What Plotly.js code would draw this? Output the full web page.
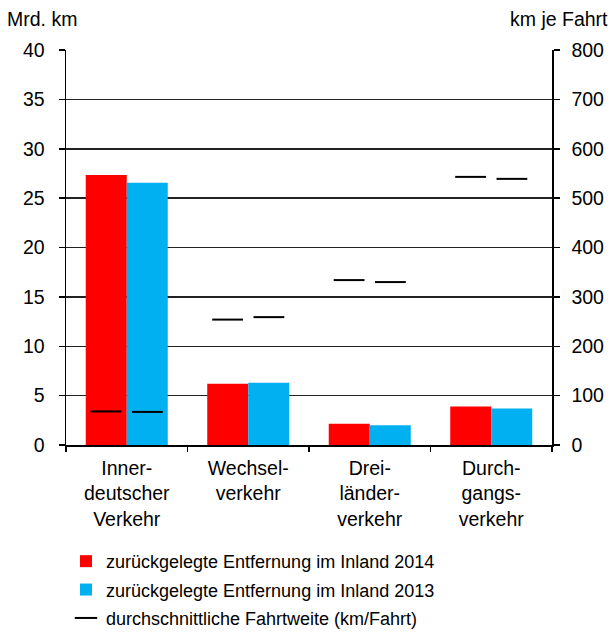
<!DOCTYPE html>
<html><head><meta charset="utf-8">
<script src="https://cdn.plot.ly/plotly-3.0.1.min.js"></script>
<style>body{margin:0;background:#fff}#chart{width:614px;height:633px}</style>
</head><body><div id="chart"></div>
<script>
const categories = ["Inner-<br>deutscher<br>Verkehr", "Wechsel-<br>verkehr", "Drei-<br>länder-<br>verkehr", "Durch-<br>gangs-<br>verkehr"];
const dist2014 = [27.35, 6.2, 2.15, 3.9];
const dist2013 = [26.55, 6.3, 2.0, 3.7];
const avg2014 = [68, 254, 334, 543];
const avg2013 = [67, 259, 330, 539];
const seriesNames = ["zurückgelegte Entfernung im Inland 2014", "zurückgelegte Entfernung im Inland 2013", "durchschnittliche Fahrtweite (km/Fahrt)"];
const leftTicks = [0,5,10,15,20,25,30,35,40];
const rightTicks = [0,100,200,300,400,500,600,700,800];

const idx = categories.map((c,i)=>i);
const off = 0.17;
const font = {family: "Liberation Sans, Arial, sans-serif", size: 19.5, color: "#000"};

const traces = [
  {type:"bar", x: idx, y: dist2014, name: seriesNames[0], legendgroup:"a", marker:{color:"#FF0000"}, xaxis:"x", yaxis:"y"},
  {type:"bar", x: idx, y: dist2013, name: seriesNames[1], legendgroup:"b", marker:{color:"#00B0F0"}, xaxis:"x", yaxis:"y"},
  {type:"scatter", mode:"markers", x: idx.map(i=>i-off), y: avg2014, name: seriesNames[2], legendgroup:"c", yaxis:"y2", xaxis:"x",
   marker:{symbol:"line-ew", size:22, color:"#000", line:{color:"#000", width:2}}},
  {type:"scatter", mode:"markers", x: idx.map(i=>i+off), y: avg2013, name: seriesNames[2], legendgroup:"c", yaxis:"y2", xaxis:"x", showlegend:false,
   marker:{symbol:"line-ew", size:22, color:"#000", line:{color:"#000", width:2}}}
];

const layout = {
  width: 614, height: 633,
  margin: {l:66, r:62, t:50, b:188, autoexpand:false},
  paper_bgcolor: "#fff", plot_bgcolor: "#fff",
  font: font,
  barmode: "group", bargap: 0.325, bargroupgap: 0,
  showlegend: true,
  legend: {x: 0, xanchor: "left", y: -0.248, yanchor: "top", font: {family: font.family, size: 18, color:"#000"},
           traceorder: "grouped", tracegroupgap: 2, itemwidth: 30, bgcolor: "rgba(0,0,0,0)"},
  xaxis: {range: [-0.5, 3.5], tickmode: "array", tickvals: idx, ticktext: categories, ticks: "", ticklabelstandoff: 5,
          showgrid: false, zeroline: false, showline: true, linecolor: "#000", linewidth: 1.5, tickfont: font, fixedrange: true},
  xaxis2: {overlaying: "x", range: [-0.5, 3.5], tickmode: "array", tickvals: [-0.5, 0.5, 1.5, 2.5, 3.5],
           ticks: "outside", ticklen: 6, tickwidth: 1.5, tickcolor: "#000", showticklabels: false, showgrid: false, zeroline: false, anchor: "y"},
  yaxis: {range: [0, 40], tickmode: "array", tickvals: leftTicks, ticks: "outside", ticklen: 6, tickwidth: 1.5, tickcolor: "#000", ticklabelstandoff: 10,
          showgrid: true, gridcolor: "#222", gridwidth: 1.5, zeroline: false, showline: true, linecolor: "#000", linewidth: 1.5, tickfont: font},
  yaxis2: {range: [0, 800], overlaying: "y", side: "right", tickmode: "array", tickvals: rightTicks, ticks: "outside", ticklen: 6, tickwidth: 1.5, ticklabelstandoff: 8,
           tickcolor: "#000", showgrid: false, zeroline: false, showline: true, linecolor: "#000", linewidth: 1.5, tickfont: font},
  annotations: [
    {text: "Mrd. km", xref: "paper", yref: "paper", x: -0.125, y: 1.078, xanchor: "left", yanchor: "middle", showarrow: false, font: font},
    {text: "km je Fahrt", xref: "paper", yref: "paper", x: 1.12, y: 1.078, xanchor: "right", yanchor: "middle", showarrow: false, font: font}
  ]
};
traces.push({type:"scatter", x:[], y:[], xaxis:"x2", yaxis:"y", showlegend:false, hoverinfo:"skip"});
Plotly.newPlot("chart", traces, layout, {displayModeBar:false, staticPlot:true});
</script></body></html>
